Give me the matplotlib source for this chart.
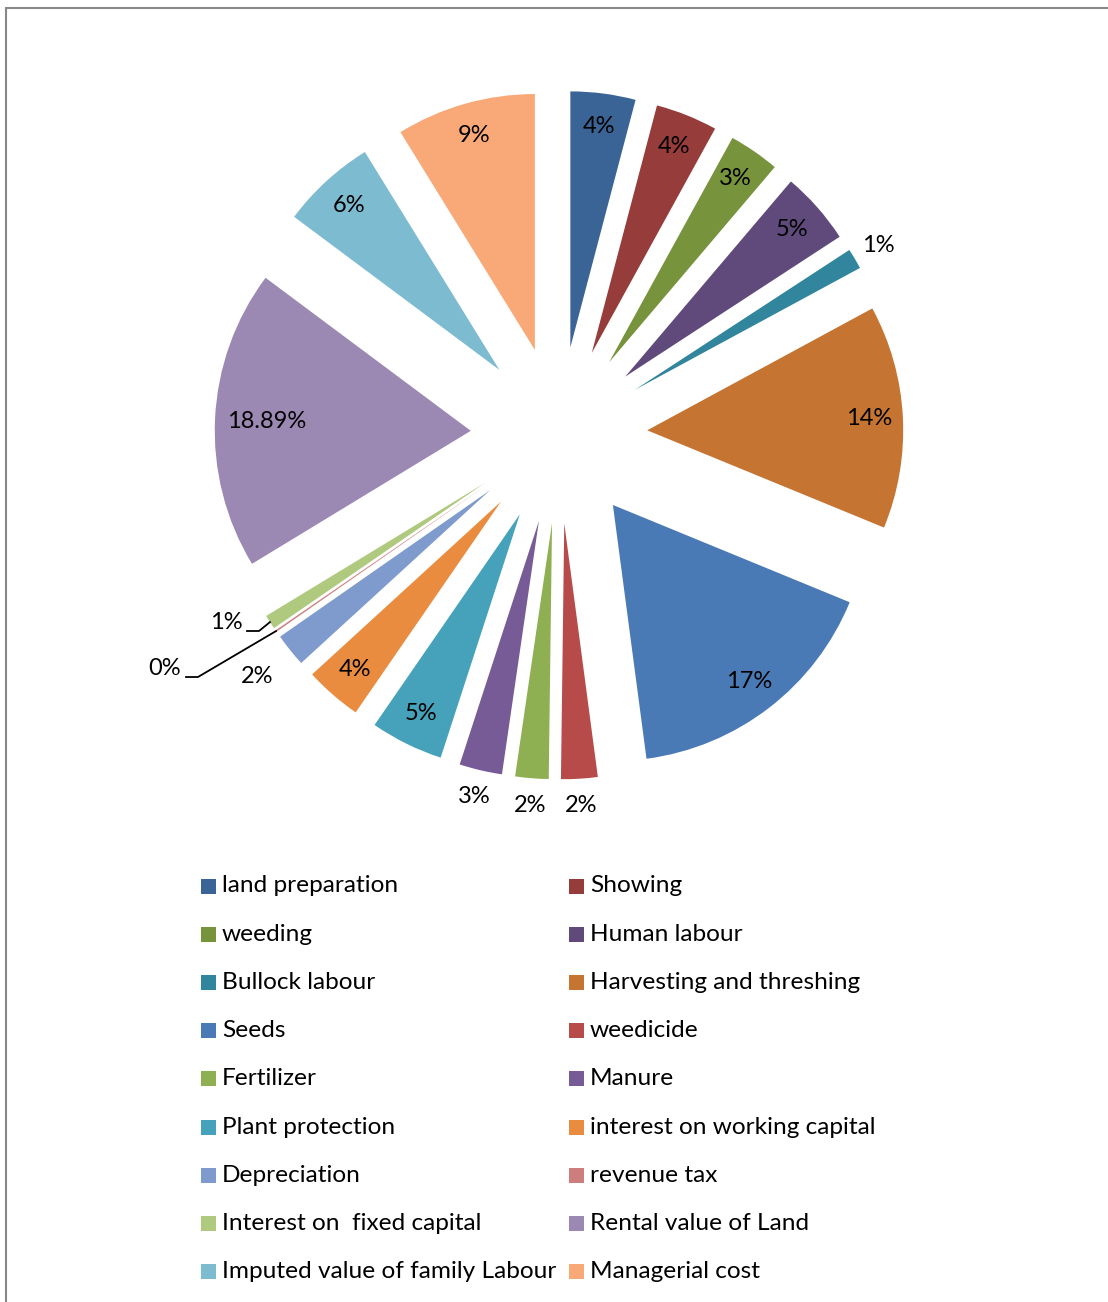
import numpy as np
import matplotlib
matplotlib.use("Agg")
import matplotlib.pyplot as plt
from matplotlib.patches import Rectangle

plt.rcParams['font.family'] = ['Lato', 'DejaVu Sans']

# cost items and their share of total cost (%)
items = ["land preparation", "Showing", "weeding", "Human labour", "Bullock labour",
         "Harvesting and threshing", "Seeds", "weedicide", "Fertilizer", "Manure",
         "Plant protection", "interest on working capital", "Depreciation", "revenue tax",
         "Interest on  fixed capital", "Rental value of Land",
         "Imputed value of family Labour", "Managerial cost"]
shares = [4.1, 3.9, 3.2, 4.6, 1.3, 14.1, 16.7, 2.3, 2.1, 2.7,
          4.6, 3.6, 2.1, 0.1, 0.9, 18.89, 6.0, 8.8]
colors = ["#3B6496", "#963C3A", "#77933C", "#604A7B", "#31859C", "#C57432",
          "#4A7AB5", "#B74B49", "#8FB052", "#775B97", "#45A2BA", "#E98C40",
          "#7F9ACC", "#CD7E7C", "#AFC97F", "#9B88B3", "#7DBBD0", "#F8A977"]

W, H = 1108, 1302
cx, cy, R = 559, 435, 256      # pie centre / radius in pixels
EXPL = 0.345

fig = plt.figure(figsize=(W / 100, H / 100), dpi=100)
ax = fig.add_axes([0, 0, 1, 1])

wedges, _ = ax.pie(shares, colors=colors, startangle=90, counterclock=False,
                   explode=[EXPL] * len(shares), radius=1.0,
                   wedgeprops=dict(linewidth=0))
ax.set_xlim(-cx / R, (W - cx) / R)
ax.set_ylim(-(H - cy) / R, cy / R)
ax.set_aspect('auto')
ax.axis('off')

total = sum(shares)
outside = {4: 1.45, 7: 1.45, 8: 1.45, 9: 1.45, 12: 1.51}
FS_PIE = 17
FS_LEG = 17.6

for i, w in enumerate(wedges):
    pct = shares[i] / total * 100
    txt = f"{pct:.2f}%" if i == 15 else f"{pct:.0f}%"
    mid = np.deg2rad((w.theta1 + w.theta2) / 2)
    d = np.array([np.cos(mid), np.sin(mid)])
    if i in (13, 14):
        continue
    if i in outside:
        r = EXPL + outside[i] - 0.345
    elif i == 15:
        r = EXPL + 0.80
    else:
        r = EXPL + 0.87
    ax.text(r * d[0], r * d[1], txt, ha='center', va='center', fontsize=FS_PIE, color='black')

# leader lines for the two smallest slices
for i, (tx, ty, ex, ey) in {14: (226, 622, 259, 631), 13: (165, 668, 198, 677)}.items():
    w = wedges[i]
    pct = shares[i] / total * 100
    mid = np.deg2rad((w.theta1 + w.theta2) / 2)
    tip = (EXPL + 1.0) * np.array([np.cos(mid), np.sin(mid)])
    xs = [tip[0], (ex - cx) / R, (ex - 12 - cx) / R]
    ys = [tip[1], (cy - ey) / R, (cy - ey) / R]
    ax.plot(xs, ys, color='black', lw=1.3)
    ax.text((tx - cx) / R, (cy - ty) / R, f"{pct:.0f}%", ha='center', va='center',
            fontsize=FS_PIE, color='black')

# legend in two columns, filled row by row
for i, (name, c) in enumerate(zip(items, colors)):
    row, col = divmod(i, 2)
    x0 = 201 if col == 0 else 569
    y0 = 886 + row * 48.2
    fig.add_artist(Rectangle((x0 / W, 1 - (y0 + 7.5) / H), 15 / W, 15 / H,
                             transform=fig.transFigure, color=c, lw=0))
    fig.text((x0 + 21) / W, 1 - y0 / H, name, ha='left', va='center',
             fontsize=FS_LEG, color='black')

# outer frame
fig.add_artist(Rectangle((6 / W, -0.01), 1.1, 1.01 - 8 / H, transform=fig.transFigure,
                         fill=False, ec='#888888', lw=1.5))

fig.savefig("out.png", dpi=100, facecolor='white')
